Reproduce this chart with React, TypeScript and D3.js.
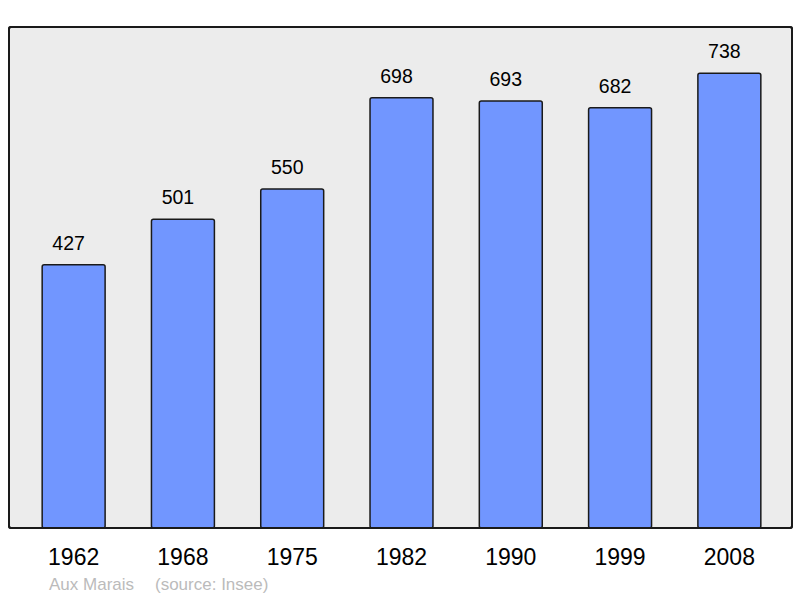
import React from "react";
import * as d3 from "d3";

const years = ["1962", "1968", "1975", "1982", "1990", "1999", "2008"];
const population = [427, 501, 550, 698, 693, 682, 738];
const placeName = "Aux Marais";
const sourceText = "(source: Insee)";

const W = 800;
const H = 598;
const frame = { left: 9, right: 792, top: 27, bottom: 528 };

export default function App() {
  const x = d3
    .scaleBand<string>()
    .domain(years)
    .range([19, 784])
    .paddingInner(0.424)
    .paddingOuter(0.212);
  const y = d3.scaleLinear().domain([0, 813]).range([frame.bottom, frame.top]);

  return (
    <svg
      width={W}
      height={H}
      style={{ position: "absolute", left: 0, top: 0 }}
      fontFamily="'Liberation Sans', Arial, sans-serif"
    >
      <rect x={0} y={0} width={W} height={H} fill="#ffffff" />
      <rect
        x={frame.left}
        y={frame.top}
        width={frame.right - frame.left}
        height={frame.bottom - frame.top}
        rx={2}
        fill="#ececec"
        stroke="#1a1a1a"
        strokeWidth={2}
      />
      {years.map((yr, i) => {
        const v = population[i];
        const bx = x(yr)!;
        const bw = x.bandwidth();
        const top = y(v);
        return (
          <g key={yr}>
            <rect
              x={bx}
              y={top}
              width={bw}
              height={frame.bottom - top}
              rx={2}
              fill="#7196ff"
              stroke="#1a1a1a"
              strokeWidth={1.5}
            />
            <text
              x={bx + bw / 2 - 5}
              y={top - 15}
              textAnchor="middle"
              fontSize={19.5}
              fill="#000"
            >
              {v}
            </text>
            <text
              x={bx + bw / 2}
              y={565}
              textAnchor="middle"
              fontSize={23}
              fill="#000"
            >
              {yr}
            </text>
          </g>
        );
      })}
      <rect
        x={frame.left}
        y={frame.top}
        width={frame.right - frame.left}
        height={frame.bottom - frame.top}
        rx={2}
        fill="none"
        stroke="#1a1a1a"
        strokeWidth={2}
      />
      <text x={49} y={590} fontSize={17} fill="#bbbbbb">
        {placeName}
      </text>
      <text x={155} y={590} fontSize={17} fill="#bbbbbb">
        {sourceText}
      </text>
    </svg>
  );
}
